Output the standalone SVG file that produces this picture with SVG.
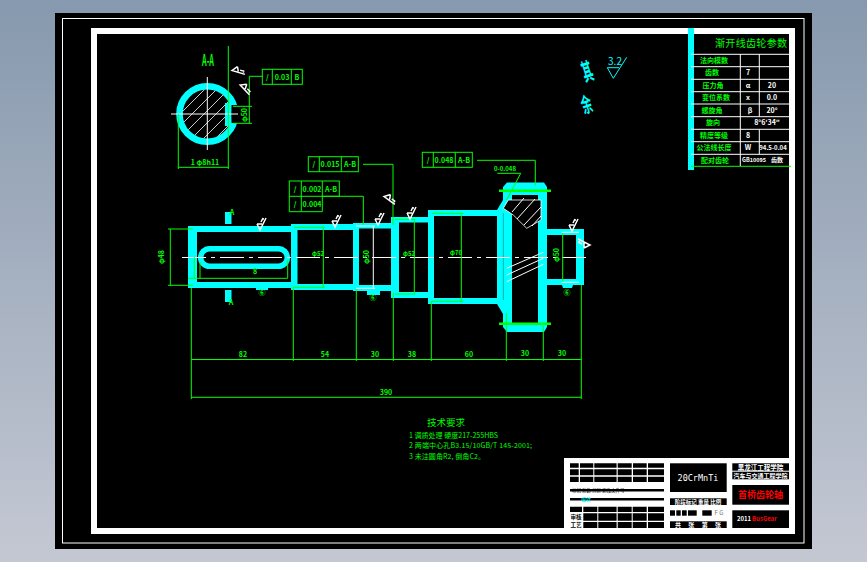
<svg xmlns="http://www.w3.org/2000/svg" xmlns:xlink="http://www.w3.org/1999/xlink" width="867" height="562" viewBox="0 0 867 562">
<style>
.g{stroke:#0f0;stroke-width:1;fill:none}
.w{stroke:#fff;stroke-width:1;fill:none}
.c{fill:#0ff}
.k{fill:#000}
text{font-family:"Noto Sans CJK SC","DejaVu Sans",sans-serif;font-size:7px}
.tg{fill:#0f0;font-weight:700}
.tw{fill:#fff;font-weight:700}
.tr{fill:#f00;font-weight:700}
.m{text-anchor:middle}
</style>
<defs>
<linearGradient id="bg" x1="0" y1="0" x2="0" y2="1"><stop offset="0" stop-color="#8799ae"/><stop offset="1" stop-color="#c4c8d3"/></linearGradient>
<clipPath id="secClip"><circle cx="207.3" cy="114" r="24.5"/></clipPath>
<g id="rough"><path d="M-3,-3 L0,3 L6,-9 M-3,-3 L2,-3 M2,-8 L4,-8 M1,-5 L3,-9" fill="none" stroke="#fff" stroke-width="1.5"/></g>
</defs>
<rect width="867" height="562" fill="url(#bg)"/>
<g id="sheet">
<rect x="55" y="13" width="757" height="536" fill="#000"/>
<rect x="62.5" y="18.5" width="741.5" height="524.5" class="w"/>
<rect x="94" y="31" width="698" height="500" fill="none" stroke="#fff" stroke-width="6"/>
</g>
<g id="section-view">
<circle cx="207.3" cy="114" r="27.8" fill="none" stroke="#0ff" stroke-width="6.6"/>
<g clip-path="url(#secClip)" stroke="#fff" stroke-width="0.8">
<path d="M170,100 L200,70 M170,112 L215,67 M170,124 L225,69 M172,134 L235,71 M178,140 L240,78 M184,146 L240,90 M194,148 L240,102 M204,150 L240,114 M216,150 L240,126"/>
</g>
<rect x="225" y="103" width="6.500" height="23" class="c"/>
<rect x="231.500" y="105" width="9" height="18" class="k"/>
<path d="M207.300,77 V150 M171,114 H238" class="w"/>
<path d="M178.300,114 V169 M228.300,46 V169 M178.300,167.300 H228.300 M233,106.300 H252 M233,123.300 H252 M249.300,76.300 V123.300 M249.300,76.300 H262.300" class="g"/>
<rect x="262.300" y="69.300" width="40" height="15" class="g"/>
<path d="M272.300,69.300 V84.300 M291.300,69.300 V84.300" class="g"/>
<text x="267.300" y="80" class="tg m">/</text><text x="282" y="80" class="tg m">0.03</text><text x="297" y="80" class="tg m">B</text>
<text transform="translate(208 66) scale(0.8 1.7)" class="tg m" style="font-size:9px">A-A</text>
<text x="205" y="165" class="tg m">1 φ8h11</text>
<text transform="translate(247 115) rotate(-90)" class="tg m">φ50</text>
<use xlink:href="#rough" transform="translate(235 70) rotate(80)"/>
<use xlink:href="#rough" transform="translate(243 86) rotate(110)"/>
</g>
<g id="shaft">
<rect x="188" y="226" width="109" height="6" class="c"/>
<rect x="188" y="282" width="109" height="6" class="c"/>
<rect x="188" y="226" width="9" height="62" class="c"/>
<rect x="291" y="224" width="6.500" height="66" class="c"/>
<rect x="291" y="224" width="68" height="6" class="c"/>
<rect x="291" y="284" width="68" height="6" class="c"/>
<rect x="353" y="223" width="6" height="68" class="c"/>
<rect x="353" y="223" width="44" height="5.500" class="c"/>
<rect x="353" y="285" width="44" height="6" class="c"/>
<rect x="391" y="217" width="8" height="81" class="c"/>
<rect x="391" y="217" width="43" height="5.500" class="c"/>
<rect x="391" y="292" width="43" height="6" class="c"/>
<rect x="428" y="210" width="6" height="94" class="c"/>
<rect x="428" y="210" width="72" height="6" class="c"/>
<rect x="428" y="298" width="72" height="6" class="c"/>
<polygon points="497,210 503,200 503,187 507,182.500 544,182.500 547,187 547,229 584,229 584,285 547,285 547,327 544,332 507,332 503,327 503,314 497,304" class="c"/>
<rect x="512" y="195" width="26" height="130" class="k"/>
<rect x="547" y="235" width="29" height="44" class="k"/>
<polygon points="562,285 573,285 572,288 563,288" class="c"/>
<rect x="256" y="288" width="12" height="2" class="c"/>
<rect x="367" y="291" width="13" height="4" class="c"/>
<rect x="200.700" y="248.700" width="86.600" height="17.600" rx="8.800" fill="none" stroke="#0ff" stroke-width="5.500"/>
<rect x="225" y="212" width="6.500" height="12" class="c"/>
<rect x="225" y="290" width="6.500" height="12" class="c"/>
<polygon points="503.300,208.300 508.300,200 541,200 541,220 526.700,228.300 513.300,215" class="k" stroke="#fff" stroke-width="0.8"/>
<path d="M512,212 L524,198 M517,219 L535,199 M524,225 L541,207 M532,226 L541,216" class="w"/>
<path d="M506.700,268.300 L543.300,252.300 M506.700,275 L543.300,258.300 M506.700,281.700 L543.300,264.300" class="w"/>
<path d="M503.300,213 V300" stroke="#00a0a0" stroke-width="0.8"/>
<path d="M182,257.500 H591" stroke="#fff" stroke-width="1" stroke-dasharray="24,5,4,5"/>
<path d="M499,190.700 H551 M499,323.700 H551" stroke="#0f0" stroke-width="2.500"/>
</g>
<g id="connectors">
<path d="M170.300,229 V285.300 M168,229 H193 M168,285.300 H193" class="g"/>
<path d="M194.300,257 V278.300 M200,262 V278.300 M287.700,260 V278.300 M188,278.300 H287.700" class="g"/>
<path d="M323.300,227.300 V287.300 M294,227.300 H325 M293,287.300 H325" class="g"/>
<path d="M414.300,219.300 V294 M395,219.300 H415 M395,294 H415" class="g"/>
<path d="M461.300,213.300 V301.300 M431.700,213.300 H463.300 M431.700,301.300 H463.300" class="g"/>
<path d="M562.700,233 V282" class="g"/>
<path d="M373.300,226 V288.300 M356,226 H375 M356,288.300 H375 M561.700,232.300 H579 M561.700,282.300 H579" class="w"/>
<path d="M191.300,288 V399 M293.300,287 V361 M356.300,289 V361 M393.300,293 V361 M431.300,301 V361 M506.300,313 V361 M543.300,326 V361 M581.300,285 V399" class="g"/>
<path d="M191.300,359.500 H581.300 M191.300,397.300 H581.300" class="g"/>
<path d="M363,164.300 H393 V225 M322.300,196.300 H363.300 V225" class="g"/>
<path d="M477,160.300 H535.300 V185.700 M497.300,173.300 H520.700 L506.700,200" class="g"/>
<text x="243" y="357" class="tg m">82</text><text x="325" y="357" class="tg m">54</text><text x="375" y="357" class="tg m">30</text><text x="412" y="357" class="tg m">38</text><text x="469" y="357" class="tg m">60</text><text x="525" y="356" class="tg m">30</text><text x="562" y="356" class="tg m">30</text><text x="386" y="395" class="tg m">390</text>
<text transform="translate(164 257) rotate(-90)" class="tg m">φ48</text>
<text x="255" y="274" class="tg m">8</text>
<text x="318" y="256" class="tg m" style="font-size:6px">φ52</text><text x="409" y="256" class="tg m" style="font-size:6px">φ52</text><text x="456" y="255" class="tg m" style="font-size:6px">φ70</text>
<text transform="translate(369 257) rotate(-90)" class="tg m">φ50</text>
<text transform="translate(559 255) rotate(-90)" class="tg m">φ50</text>
<text x="262" y="295" class="tg m">⑥</text><text x="373" y="300" class="tg m">⑥</text><text x="567" y="295" class="tg m">⑥</text>
<text x="232" y="215" class="tg m">A</text><text x="231" y="305" class="tg m">A</text>
<text x="505" y="171" class="tg m" style="font-size:6px">0-0.048</text>
</g>
<g id="tolerance-1">
<rect x="308.300" y="156.700" width="50" height="15" class="g"/><path d="M319.300,156.700 V171.700 M341.300,156.700 V171.700" class="g"/>
<text x="313.800" y="167" class="tg m">/</text><text x="330" y="167" class="tg m">0.015</text><text x="350" y="167" class="tg m">A-B</text>
</g>
<g id="tolerance-2">
<rect x="289.300" y="181" width="50" height="15.300" class="g"/><path d="M301.300,181 V211.700 H322.300 V181 M289.300,196.300 V211.700 H301.300" class="g"/>
<text x="295" y="192" class="tg m">/</text><text x="312" y="192" class="tg m">0.002</text><text x="331" y="192" class="tg m">A-B</text>
<text x="295" y="207" class="tg m">/</text><text x="312" y="207" class="tg m">0.004</text>
</g>
<g id="tolerance-3">
<rect x="422.300" y="152.300" width="50" height="15" class="g"/><path d="M433.300,152.300 V167.300 M455.300,152.300 V167.300" class="g"/>
<text x="428" y="163" class="tg m">/</text><text x="444" y="163" class="tg m">0.048</text><text x="464" y="163" class="tg m">A-B</text>
</g>
<g id="roughness">
<use xlink:href="#rough" transform="translate(260 227)"/><use xlink:href="#rough" transform="translate(335 224)"/><use xlink:href="#rough" transform="translate(378 222)"/><use xlink:href="#rough" transform="translate(410 216)"/><use xlink:href="#rough" transform="translate(572 228)"/><use xlink:href="#rough" transform="translate(587 245) rotate(-90)"/><use xlink:href="#rough" transform="translate(387 197) rotate(100)"/>
</g>
<g id="note-rest">
<text transform="translate(590 80) rotate(-18) scale(0.75 1.7)" fill="#0ff" class="m" style="font-size:14px;font-weight:700">其</text>
<text transform="translate(589 112) rotate(-18) scale(0.75 1.5)" fill="#0ff" class="m" style="font-size:14px;font-weight:700">余</text>
<path d="M607.300,67.700 H619 M607.300,67.700 L613.300,78.300 L626.700,57.300" fill="none" stroke="#0ff" stroke-width="1"/>
<text x="615" y="65" fill="#0ff" class="m" style="font-size:10px">3.2</text>
</g>
<g id="param-table">
<rect x="688" y="28" width="6" height="142" class="c"/>
<path d="M691,54.300 H789 M691,66.700 H789 M691,79.300 H789 M691,91.700 H789 M691,104 H789 M691,116.700 H789 M691,129.300 H789 M691,141.700 H789 M691,154.300 H789" stroke="#fff" stroke-width="1"/>
<path d="M740.300,54 V166 M759.300,54 V116.700 M759.300,129.300 V154.300" stroke="#fff" stroke-width="1"/>
<path d="M691,166.300 H791" stroke="#0f0" stroke-width="1"/>
<text x="751" y="47" class="tg m" style="font-size:10px;font-weight:400" textLength="72">渐开线齿轮参数</text>
<text x="714" y="62.500" class="tg m" textLength="28">法向模数</text><text x="712" y="75" class="tg m">齿数</text><text x="713" y="87.500" class="tg m">压力角</text><text x="716" y="100" class="tg m">变位系数</text><text x="712" y="112.500" class="tg m">螺旋角</text><text x="713" y="125" class="tg m">旋向</text><text x="714" y="137.500" class="tg m">精度等级</text><text x="714" y="150" class="tg m">公法线长度</text><text x="715" y="162.500" class="tg m">配对齿轮</text>
<text x="748" y="75" class="tw m">7</text><text x="748" y="87.500" class="tw m">α</text><text x="772" y="87.500" class="tw m">20</text><text x="748" y="100" class="tw m">x</text><text x="772" y="100" class="tw m">0.0</text><text x="750" y="112.500" class="tw m">β</text><text x="772" y="112.500" class="tw m">20°</text><text x="767" y="125" class="tw m">8°6′34″</text><text x="748" y="137.500" class="tw m">8</text><text x="748" y="150" class="tw m">W</text><text x="773" y="150" class="tw m" style="font-size:6px">94.5-0.04</text><text x="754" y="162" class="tw m" style="font-size:5.500px">GB10095</text><text x="777" y="162" class="tw m" style="font-size:6px">齿数</text>
</g>
<g id="title-block">
<rect x="564" y="458" width="225" height="70" fill="#fff"/>
<g class="k">
<path d="M570,463.300h8.700v4.500h-8.700z M580,463.300h13.300v4.500h-13.300z M594.300,463.300h22.300v4.500h-22.300z M617.700,463.300h14v4.500h-14z M633,463.300h13.700v4.500h-13.700z M648,463.300h16v4.500h-16z"/>
<path d="M570,469.300h8.700v6h-8.700z M580,469.300h13.300v6h-13.300z M594.300,469.300h22.300v6h-22.300z M617.700,469.300h14v6h-14z M633,469.300h13.700v6h-13.700z M648,469.300h16v6h-16z"/>
<path d="M570,476.700h8.700v5.300h-8.700z M580,476.700h13.300v5.300h-13.300z M594.300,476.700h22.300v5.300h-22.300z M617.700,476.700h14v5.300h-14z M633,476.700h13.700v5.300h-13.700z M648,476.700h16v5.300h-16z"/>
<rect x="570" y="489" width="94" height="2.500"/><rect x="570" y="498" width="94" height="2.500"/>
<path d="M570,506.700h12v5.300h-12z M583.300,506.700h14v5.300h-14z M598.300,506.700h18.300v5.300h-18.300z M617.700,506.700h14v5.300h-14z M632.700,506.700h14v5.300h-14z M648,506.700h16v5.300h-16z"/>
<path d="M583.300,513.300h14v7.400h-14z M598.300,513.300h18.300v7.400h-18.300z M617.700,513.300h14v7.400h-14z M632.700,513.300h14v7.400h-14z M648,513.300h16v7.400h-16z"/>
<path d="M583.300,522h14v6h-14z M598.300,522h18.300v6h-18.300z M617.700,522h14v6h-14z M632.700,522h14v6h-14z M648,522h16v6h-16z"/>
<rect x="670" y="463.300" width="56.700" height="28.700"/>
<rect x="670" y="498.300" width="56.700" height="6.700"/>
<rect x="670" y="510.300" width="5" height="5.400"/><rect x="676.300" y="510.300" width="4.400" height="5.400"/><rect x="682" y="510.300" width="4.700" height="5.400"/><rect x="688" y="510.300" width="8.700" height="5.400"/><rect x="702.300" y="510.300" width="9.400" height="5.400"/>
<rect x="670" y="521.300" width="56.700" height="6.700"/>
<rect x="732.300" y="463.300" width="56.700" height="7.400"/>
<rect x="732.300" y="471.700" width="56.700" height="7.600"/>
<rect x="732.300" y="485" width="56.700" height="19.700"/>
<rect x="732.300" y="510.300" width="56.700" height="17.700"/>
</g>
<text x="698" y="481" class="tw m" style="font-size:8.500px;font-weight:400;font-family:'DejaVu Sans Mono',monospace">20CrMnTi</text>
<text x="760.500" y="470" class="tw m" style="font-size:6.500px">黑龙江工程学院</text>
<text x="760.500" y="478" class="tw m" style="font-size:6px">汽车与交通工程学院</text>
<text x="760.500" y="498" class="tr m" style="font-size:9px">首桥齿轮轴</text>
<text x="737" y="521" class="tw" style="font-size:6px">2011</text>
<text x="752" y="521" class="tr" style="font-size:6px">BusGear</text>
<text x="698" y="504" fill="#fff" class="m" style="font-size:5.500px;font-weight:700">阶段标记 重量 比例</text>
<text x="719" y="515" fill="#777" class="m" style="font-size:6px">F G</text>
<text x="698" y="527" fill="#fff" class="m" style="font-size:6px;font-weight:700" textLength="46">共 张 第 张</text>
<text x="570.500" y="518.500" fill="#000" style="font-size:5.500px;font-weight:700">审核</text>
<text x="570.500" y="527" fill="#000" style="font-size:5.500px;font-weight:700">工艺</text>
<text x="572" y="492" fill="#000" style="font-size:4.500px">标记 处数 分区 更改文件号</text>
<text x="581" y="501" fill="#0ff" style="font-size:5px;font-weight:700">设计</text>
</g>
<g id="notes">
<text x="427" y="426" class="tg" style="font-size:9.500px;font-weight:400">技术要求</text>
<text x="409" y="438" class="tg" style="font-weight:400" textLength="89">1  调质处理 硬度217-255HBS</text>
<text x="409" y="448" class="tg" style="font-weight:400" textLength="123">2  两端中心孔B3.15/10GB/T  145-2001;</text>
<text x="409" y="459" class="tg" style="font-weight:400" textLength="76">3  未注圆角R2, 倒角C2。</text>
</g>
</svg>
